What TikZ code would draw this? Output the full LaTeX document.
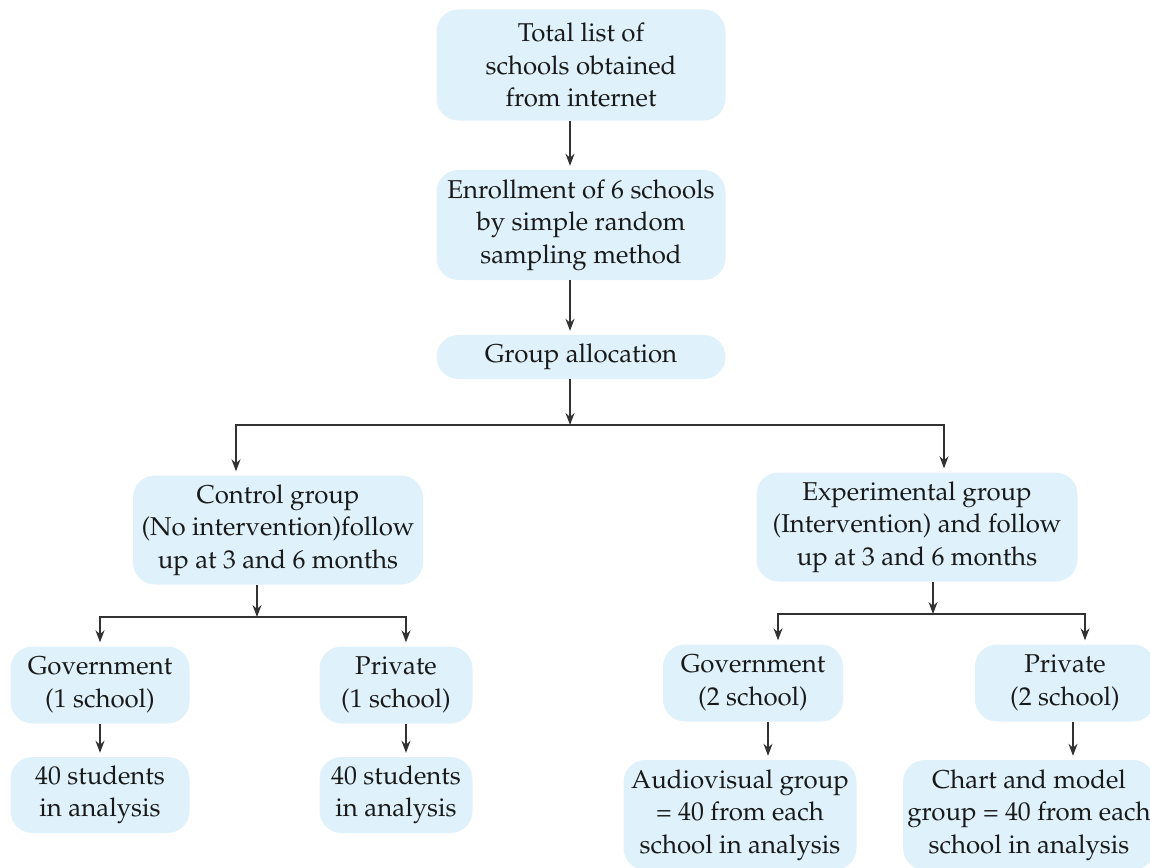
\documentclass[tikz,border=0pt]{standalone}
\usepackage[T1]{fontenc}
\usepackage{mathpazo}
\usepackage{tikz}
\usetikzlibrary{arrows.meta, positioning, calc}
\definecolor{boxblue}{RGB}{223, 241, 250}
\definecolor{linegray}{RGB}{50, 50, 50}

\begin{document}
\begin{tikzpicture}[x=1pt, y=-1pt,
  box/.style={rounded corners=22pt, fill=boxblue, draw=none, align=center,
    inner sep=2pt, font=\fontsize{25.8}{32.5}\selectfont, text=black!90},
  arr/.style={draw=linegray, line width=1.3pt, -{Stealth[length=12pt, width=9pt]}, shorten >=4pt},
  lin/.style={draw=linegray, line width=1.3pt}]
  \useasboundingbox (0,0) rectangle (1150,867);
  % top chain
  \node[box, minimum width=289pt, minimum height=111pt] (total) at (581,65) {Total list of\\schools obtained\\from internet};
  \node[box, minimum width=289pt, minimum height=110pt] (enroll) at (581,225) {Enrollment of 6 schools\\by simple random\\sampling method};
  \node[box, minimum width=289pt, minimum height=44pt] (alloc) at (581,357) {Group allocation};
  % groups
  \node[box, minimum width=290pt, minimum height=109pt] (control) at (278,530) {Control group\\(No intervention)follow\\up at 3 and 6 months};
  \node[box, minimum width=321pt, minimum height=109pt] (exper) at (917,527) {Experimental group\\(Intervention) and follow\\up at 3 and 6 months};
  % schools
  \node[box, minimum width=179pt, minimum height=77pt] (govA) at (100,685) {Government\\(1 school)};
  \node[box, minimum width=153pt, minimum height=77pt] (privA) at (396,685) {Private\\(1 school)};
  \node[box, minimum width=180pt, minimum height=77pt] (govB) at (753,683) {Government\\(2 school)};
  \node[box, minimum width=180pt, minimum height=77pt] (privB) at (1065,683) {Private\\(2 school)};
  % analysis
  \node[box, minimum width=179pt, minimum height=76pt] (stuA) at (100,795) {40 students\\in analysis};
  \node[box, minimum width=153pt, minimum height=76pt] (stuB) at (396,795) {40 students\\in analysis};
  \node[box, minimum width=233pt, minimum height=110pt] (audio) at (740,815) {Audiovisual group\\= 40 from each\\school in analysis};
  \node[box, minimum width=252pt, minimum height=110pt] (chart) at (1029,815) {Chart and model\\group = 40 from each\\school in analysis};
  % split points
  \coordinate (split1) at (570,425);
  \coordinate (split2) at (257,617);
  \coordinate (split3) at (933,614);
  % connectors
  \draw[arr] ([xshift=-11pt]total.south) -- ([xshift=-11pt]enroll.north);
  \draw[arr] ([xshift=-11pt]enroll.south) -- ([xshift=-11pt]alloc.north);
  \draw[arr, shorten >=0pt] ([xshift=-11pt]alloc.south) -- (split1);
  \draw[arr] (split1) -| ([xshift=-42pt]control.north);
  \draw[arr] (split1) -| ([xshift=27pt]exper.north);
  \draw[arr, shorten >=0pt] ([xshift=-21pt]control.south) -- (split2);
  \draw[arr] (split2) -| (govA.north);
  \draw[arr] (split2) -| ([xshift=10pt]privA.north);
  \draw[arr, shorten >=0pt] ([xshift=16pt]exper.south) -- (split3);
  \draw[arr] (split3) -| ([xshift=25pt]govB.north);
  \draw[arr] (split3) -| ([xshift=20pt]privB.north);
  \draw[arr] (govA.south) -- (stuA.north);
  \draw[arr] ([xshift=10pt]privA.south) -- ([xshift=10pt]stuB.north);
  \draw[arr] ([xshift=15pt]govB.south) -- ([xshift=15pt]govB.south |- audio.north);
  \draw[arr] ([xshift=8pt]privB.south) -- ([xshift=8pt]privB.south |- chart.north);
\end{tikzpicture}
\end{document}
